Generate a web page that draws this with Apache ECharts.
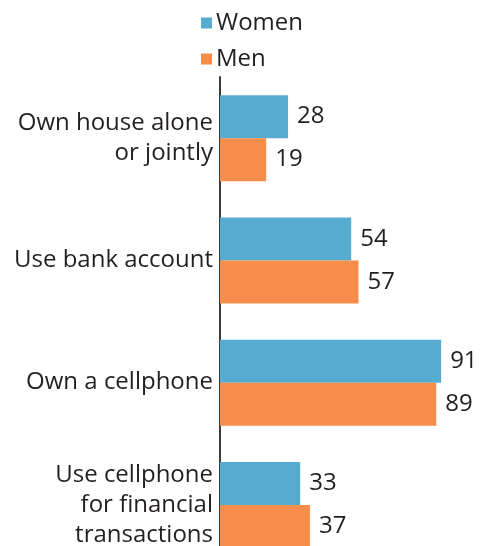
<!DOCTYPE html>
<html>
<head>
<meta charset="utf-8">
<script src="https://cdn.jsdelivr.net/npm/echarts@6/dist/echarts.min.js"></script>
<style>
  html, body { margin: 0; padding: 0; background: #fff; }
  #chart { width: 481px; height: 546px; }
</style>
</head>
<body>
<div id="chart"></div>
<script>
var categories = ['Own house alone\nor jointly', 'Use bank account', 'Own a cellphone', 'Use cellphone\nfor financial\ntransactions'];
var women = [28, 54, 91, 33];
var men = [19, 57, 89, 37];

var fontName = 'Open Sans';
var textColor = '#231f20';

var chart = echarts.init(document.getElementById('chart'));

var barLabel = {
    show: true,
    position: 'right',
    distance: 9,
    fontSize: 24,
    fontFamily: fontName,
    color: textColor
};

chart.setOption({
    animation: false,
    legend: {
        orient: 'vertical',
        left: 196,
        top: 6,
        icon: 'rect',
        itemWidth: 11,
        itemHeight: 11,
        itemGap: 12,
        textStyle: { fontSize: 24, fontFamily: fontName, color: textColor, lineHeight: 24, padding: [0, 0, 0, -1] },
        data: ['Women', 'Men']
    },
    grid: { left: 220, top: 77, height: 489, width: 243, outerBoundsMode: 'none' },
    xAxis: { type: 'value', min: 0, max: 100, show: false },
    yAxis: {
        type: 'category',
        inverse: true,
        data: categories,
        axisLine: { lineStyle: { color: '#3a3a3a', width: 2 } },
        axisTick: { show: false },
        axisLabel: {
            margin: 7,
            fontSize: 24,
            fontFamily: fontName,
            color: textColor,
            lineHeight: 30,
            align: 'right'
        }
    },
    series: [
        {
            name: 'Women',
            type: 'bar',
            data: women,
            barWidth: 43,
            barGap: '0%',
            itemStyle: { color: '#55acd0' },
            label: barLabel
        },
        {
            name: 'Men',
            type: 'bar',
            data: men,
            barWidth: 43,
            barGap: '0%',
            itemStyle: { color: '#f68d4b' },
            label: barLabel
        }
    ]
});
</script>
</body>
</html>
